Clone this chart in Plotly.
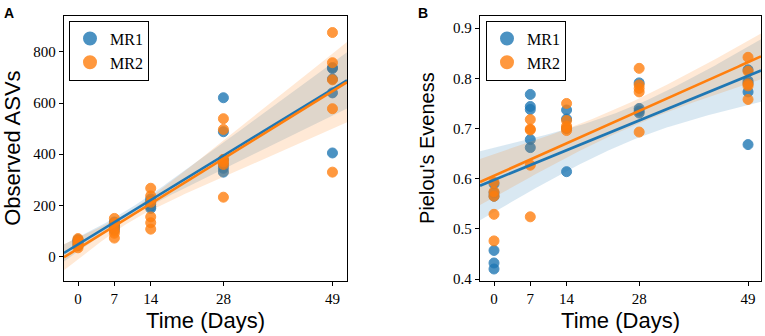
import numpy as np
import plotly.graph_objects as go

# ---------------- data ----------------
groups = ["MR1", "MR2"]
tick_days = [0, 7, 14, 28, 49]

# Panel A: Observed ASVs
asv_mr1_days = [0]*5 + [7]*5 + [14]*5 + [28]*6 + [49]*5
asv_mr1 = [42, 50, 58, 62, 66,
           105, 115, 122, 130, 135,
           188, 195, 205, 215, 225,
           621, 488, 378, 360, 345, 330,
           739, 735, 694, 640, 405]
asv_mr2_days = [0]*5 + [7]*6 + [14]*6 + [28]*6 + [49]*5
asv_mr2 = [70, 62, 53, 45, 34,
           149, 130, 113, 100, 91, 72,
           267, 237, 212, 155, 132, 107,
           539, 497, 380, 370, 360, 232,
           876, 758, 691, 578, 330]

# Panel B: Pielou's evenness
even_mr1_days = [0]*6 + [7]*5 + [14]*4 + [28]*4 + [49]*5
even_mr1 = [0.420, 0.432, 0.457, 0.565, 0.572, 0.590,
            0.768, 0.744, 0.738, 0.678, 0.662,
            0.737, 0.719, 0.700, 0.614,
            0.791, 0.740, 0.735, 0.731,
            0.817, 0.795, 0.790, 0.773, 0.668]
even_mr2_days = [0]*5 + [7]*5 + [14]*5 + [28]*5 + [49]*5
even_mr2 = [0.593, 0.574, 0.565, 0.529, 0.476,
            0.718, 0.699, 0.697, 0.627, 0.524,
            0.750, 0.716, 0.705, 0.701, 0.696,
            0.820, 0.787, 0.780, 0.773, 0.693,
            0.842, 0.814, 0.789, 0.785, 0.758]

# ---------------- style ----------------
W, H = 765, 336
colors = {"MR1": "#1f77b4", "MR2": "#ff7f0e"}
bands = {"MR1": "rgba(31,119,180,0.17)", "MR2": "rgba(255,127,14,0.17)"}
serif = "Liberation Serif"
sans = "Liberation Sans"

xrange_a = [-2.7, 51.8]
yrange_a = [-94, 942]
xrange_b = [-2.7, 51.5]
yrange_b = [0.397, 0.925]


def fit(x, y, xr):
    """OLS line with a 95% band from a heteroscedasticity-robust (HC3) covariance."""
    x = np.asarray(x, float)
    y = np.asarray(y, float)
    X = np.column_stack([np.ones_like(x), x])
    xtx_inv = np.linalg.inv(X.T @ X)
    beta = xtx_inv @ X.T @ y
    res = y - X @ beta
    h = np.einsum("ij,jk,ik->i", X, xtx_inv, X)
    w = res**2 / (1 - h)**2
    meat = X.T @ (X * w[:, None])
    cov = xtx_inv @ meat @ xtx_inv
    xg = np.linspace(xr[0], xr[1], 100)
    G = np.column_stack([np.ones_like(xg), xg])
    yg = G @ beta
    se = np.sqrt(np.einsum("ij,jk,ik->i", G, cov, G))
    return xg, yg, yg - 1.96*se, yg + 1.96*se


fig = go.Figure()
pending_lines = []


def add_group(name, x, y, xr, xa, ya, legend):
    c = colors[name]
    fig.add_trace(go.Scatter(
        x=x, y=y, mode="markers", name=name, xaxis=xa, yaxis=ya,
        legend=legend, showlegend=True,
        marker=dict(size=10, color=c, opacity=0.8, line=dict(width=1, color=c)),
    ))
    xg, yg, lo, hi = fit(x, y, xr)
    fig.add_trace(go.Scatter(
        x=np.concatenate([xg, xg[::-1]]), y=np.concatenate([hi, lo[::-1]]),
        mode="lines", fill="toself", fillcolor=bands[name],
        line=dict(width=0), xaxis=xa, yaxis=ya, showlegend=False, hoverinfo="skip",
    ))
    pending_lines.append(go.Scatter(
        x=xg, y=yg, mode="lines", line=dict(color=c, width=2.6),
        xaxis=xa, yaxis=ya, showlegend=False, hoverinfo="skip",
    ))


add_group("MR1", asv_mr1_days, asv_mr1, xrange_a, "x", "y", "legend")
add_group("MR2", asv_mr2_days, asv_mr2, xrange_a, "x", "y", "legend")
add_group("MR1", even_mr1_days, even_mr1, xrange_b, "x2", "y2", "legend2")
add_group("MR2", even_mr2_days, even_mr2, xrange_b, "x2", "y2", "legend2")
for tr in pending_lines:
    fig.add_trace(tr)

ydom = [(H - 286.5)/H, (H - 16)/H]
axis_common = dict(
    showline=True, linecolor="black", linewidth=1.3, mirror=True,
    ticks="outside", ticklen=4, tickwidth=1, tickcolor="black",
    showgrid=False, zeroline=False,
    tickfont=dict(family=serif, size=15, color="black"),
)
legend_common = dict(
    xanchor="left", yanchor="top",
    bordercolor="black", borderwidth=1, bgcolor="white",
    font=dict(family=serif, size=16, color="black"),
    itemsizing="constant", tracegroupgap=0,
)

fig.update_layout(
    width=W, height=H, margin=dict(l=0, r=0, t=0, b=0),
    paper_bgcolor="white", plot_bgcolor="white",
    xaxis=dict(domain=[64/W, 347/W], range=xrange_a, tickvals=tick_days,
               title=dict(text="Time (Days)", font=dict(family=sans, size=22, color="black"), standoff=6),
               anchor="y", **axis_common),
    yaxis=dict(domain=ydom, range=yrange_a, tickvals=[0, 200, 400, 600, 800],
               title=dict(text="Observed ASVs", font=dict(family=sans, size=22, color="black"), standoff=8),
               anchor="x", **axis_common),
    xaxis2=dict(domain=[480/W, 761/W], range=xrange_b, tickvals=tick_days,
                title=dict(text="Time (Days)", font=dict(family=sans, size=22, color="black"), standoff=6),
                anchor="y2", **axis_common),
    yaxis2=dict(domain=ydom, range=yrange_b, tickvals=[0.4, 0.5, 0.6, 0.7, 0.8, 0.9],
                tickformat=".1f",
                title=dict(text="Pielou's Eveness", font=dict(family=sans, size=20, color="black"), standoff=13),
                anchor="x2", **axis_common),
    legend=dict(x=69/W, y=(H - 21)/H, **legend_common),
    legend2=dict(x=486/W, y=(H - 21)/H, **legend_common),
    annotations=[
        dict(text="<b>A</b>", x=2/W, y=1 - 3/H, xref="paper", yref="paper",
             xanchor="left", yanchor="top", showarrow=False,
             font=dict(family=sans, size=14, color="black")),
        dict(text="<b>B</b>", x=416/W, y=1 - 3/H, xref="paper", yref="paper",
             xanchor="left", yanchor="top", showarrow=False,
             font=dict(family=sans, size=14, color="black")),
    ],
)

fig.write_html("out.html", config={"displayModeBar": False},
               post_script="document.body.style.margin='0';")
